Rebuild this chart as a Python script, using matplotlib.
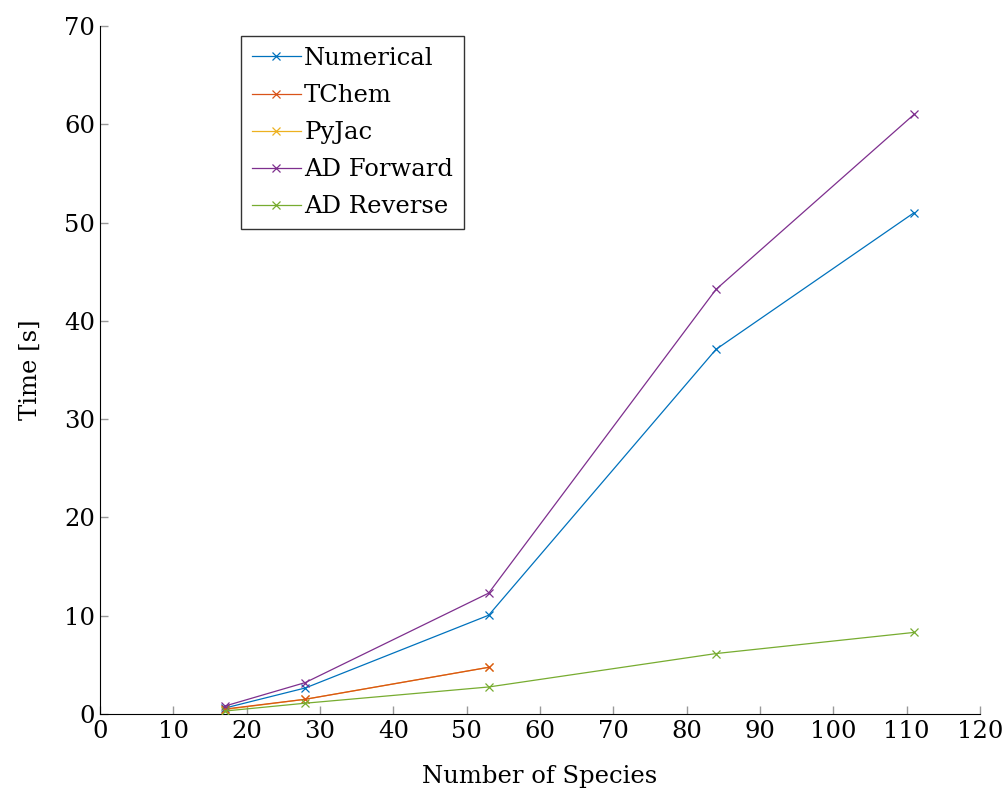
import matplotlib
matplotlib.use("Agg")
import matplotlib.pyplot as plt

species = [17, 28, 53, 84, 111]
species_short = [17, 28, 53]
numerical = [0.6, 2.65, 10.05, 37.1, 51.0]
tchem = [0.5, 1.5, 4.75]
pyjac = [0.45, 1.5, 4.75]
ad_forward = [0.8, 3.2, 12.3, 43.2, 61.0]
ad_reverse = [0.3, 1.1, 2.75, 6.15, 8.3]

xticks = list(range(0, 121, 10))
yticks = list(range(0, 71, 10))

plt.rcParams['font.family'] = ['DejaVu Serif']
fig = plt.figure(figsize=(10.08, 7.94), dpi=100)
ax = fig.add_axes([100/1008, 80/794, 880/1008, 688/794])

cols = ['#0072BD', '#D95319', '#EDB120', '#7E2F8E', '#77AC30']
kw = dict(marker='x', markersize=6, linewidth=0.9, markeredgewidth=0.9)
ax.plot(species, numerical, color=cols[0], label='Numerical', zorder=3, **kw)
ax.plot(species_short, pyjac, color=cols[2], label='PyJac', zorder=2, **kw)
ax.plot(species_short, tchem, color=cols[1], label='TChem', zorder=3, **kw)
ax.plot(species, ad_forward, color=cols[3], label='AD Forward', zorder=3, **kw)
ax.plot(species, ad_reverse, color=cols[4], label='AD Reverse', zorder=3, **kw)

ax.set_xlim(0, 120)
ax.set_ylim(0, 70)
ax.set_xticks(xticks)
ax.set_yticks(yticks)
ax.spines['top'].set_visible(False)
ax.spines['right'].set_visible(False)
ax.tick_params(direction='in', length=6, color='#999999', labelsize=17.5, width=1)
ax.tick_params(axis='x', pad=4)
ax.set_xlabel('Number of Species', fontsize=17.5, labelpad=16)
ax.set_ylabel('Time [s]', fontsize=17.5, labelpad=16)

handles, labels = ax.get_legend_handles_labels()
order = ['Numerical', 'TChem', 'PyJac', 'AD Forward', 'AD Reverse']
hmap = dict(zip(labels, handles))
leg = ax.legend([hmap[l] for l in order], order, loc='upper left',
                bbox_to_anchor=(141/880, 1 - 10/688), fontsize=17.5,
                frameon=True, fancybox=False, edgecolor='black',
                handlelength=2.0, handletextpad=0.15, borderpad=0.45,
                labelspacing=0.58, borderaxespad=0)
leg.get_frame().set_linewidth(1.0)

fig.savefig('out.png', dpi=100)
